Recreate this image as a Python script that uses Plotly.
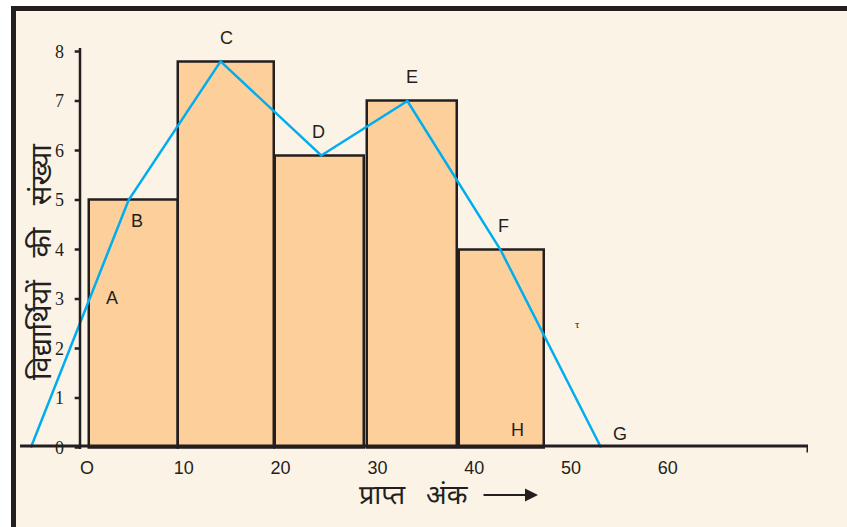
import plotly.graph_objects as go

# class intervals of the histogram (marks) and number of students
class_left = [0.2, 9.4, 19.4, 28.9, 38.4]
class_right = [9.4, 19.3, 28.6, 38.2, 47.2]
students = [5, 7.8, 5.9, 7, 4]

# frequency polygon vertices
poly_x = [-5.8, 4.3, 13.8, 24.2, 33.1, 42.7, 53.1]
poly_y = [0, 5, 7.8, 5.9, 7, 4, 0]

# point labels
pt_names = ["A", "B", "C", "D", "E", "F", "G", "H"]
pt_x = [2.6, 5.2, 14.4, 23.9, 33.6, 43.0, 55.1, 44.5]
pt_y = [3.02, 4.57, 8.27, 6.37, 7.48, 4.47, 0.27, 0.35]

x_ticks = [0, 10, 20, 30, 40, 50, 60]
x_ticktext = ["O", "10", "20", "30", "40", "50", "60"]
y_ticks = [0, 1, 2, 3, 4, 5, 6, 7, 8]

W, H = 847, 527
cream = "#FCF3E7"
ink = "#231F20"
peach = "#FDCF9B"
blue = "#00AEEF"
deva = "Noto Sans Devanagari, Noto Sans, sans-serif"

def px(x):
    return x / W

def py(y):
    return 1 - y / H

centers = [(a + b) / 2 for a, b in zip(class_left, class_right)]
widths = [b - a for a, b in zip(class_left, class_right)]

fig = go.Figure()
fig.add_trace(go.Bar(
    x=centers, y=students, width=widths,
    marker=dict(color=peach, line=dict(color=ink, width=2.5)),
    hoverinfo="skip", showlegend=False,
))
fig.add_trace(go.Scatter(
    x=poly_x, y=poly_y, mode="lines",
    line=dict(color=blue, width=2.5),
    hoverinfo="skip", showlegend=False,
))

for n, x, y in zip(pt_names, pt_x, pt_y):
    fig.add_annotation(x=x, y=y, text=n, showarrow=False,
                       font=dict(family="Liberation Sans, Arial", size=18, color=ink))
# stray small mark
fig.add_annotation(x=50.7, y=2.49, text="τ", showarrow=False,
                   font=dict(family="Liberation Serif", size=11, color=ink))

xr = [(20 - 87) / 9.68, (808 - 87) / 9.68]
yx = (80 - 87) / 9.68
shapes = [
    # frame
    dict(type="rect", xref="paper", yref="paper", x0=0, x1=1, y0=py(6), y1=1,
         fillcolor="white", line_width=0, layer="below"),
    dict(type="rect", xref="paper", yref="paper", x0=0, x1=px(11), y0=0, y1=1,
         fillcolor="white", line_width=0, layer="below"),
    dict(type="rect", xref="paper", yref="paper", x0=px(11), x1=1, y0=py(11), y1=py(6),
         fillcolor=ink, line_width=0, layer="below"),
    dict(type="rect", xref="paper", yref="paper", x0=px(11), x1=px(16), y0=0, y1=py(6),
         fillcolor=ink, line_width=0, layer="below"),
    # x axis line with end tick
    dict(type="line", xref="x", yref="y", x0=xr[0], x1=xr[1], y0=0.03, y1=0.03,
         line=dict(color=ink, width=3)),
    dict(type="line", xref="x", yref="y", x0=xr[1], x1=xr[1], y0=0.03, y1=-0.13,
         line=dict(color=ink, width=3)),
    # y axis line
    dict(type="line", xref="x", yref="y", x0=yx, x1=yx,
         y0=-0.03, y1=8.07, line=dict(color=ink, width=2.5)),
]
# y ticks drawn beside the axis line
for t in y_ticks:
    shapes.append(dict(type="line", xref="x", yref="y", x0=yx - 0.55, x1=yx,
                       y0=t, y1=t, line=dict(color=ink, width=2.5)))

fig.add_annotation(xref="paper", yref="paper", x=px(23), y=py(262),
                   xanchor="left", yanchor="middle",
                   text="विद्यार्थियों   की   संख्या", textangle=-90, showarrow=False,
                   font=dict(family=deva, size=29, color=ink))
fig.add_annotation(xref="paper", yref="paper", x=px(414), y=py(497),
                   xanchor="center", yanchor="middle",
                   text="प्राप्त   अंक", showarrow=False,
                   font=dict(family=deva, size=27, color=ink))
fig.add_annotation(xref="paper", yref="paper", x=px(538), y=py(495), ax=-56, ay=0,
                   text="", showarrow=True, arrowhead=2, arrowsize=1.3, arrowwidth=2,
                   arrowcolor=ink)

fig.update_layout(
    width=W, height=H, autosize=False,
    margin=dict(l=0, r=0, t=0, b=0, autoexpand=False),
    paper_bgcolor=cream, plot_bgcolor="rgba(0,0,0,0)",
    bargap=0,
    shapes=shapes,
    xaxis=dict(domain=[px(20), px(808)], range=xr, showgrid=False, zeroline=False,
               showline=False, tickvals=x_ticks, ticktext=x_ticktext, ticks="",
               automargin=False, ticklabelstandoff=3,
               tickfont=dict(family="Liberation Sans, Arial", size=18, color=ink)),
    yaxis=dict(domain=[py(452.45), py(26.75)], range=[-0.1, 8.5], showgrid=False,
               zeroline=False, showline=False, anchor="free", position=px(66),
               tickvals=y_ticks, ticks="", ticklabelstandoff=2, automargin=False,
               tickfont=dict(family="Liberation Serif, Times New Roman", size=18, color=ink)),
)

# no page margin, no scrollbars, no modebar
page_js = (
    "var s=document.createElement('style');"
    "s.textContent='html,body{margin:0;padding:0;overflow:hidden}"
    ".modebar-container{display:none !important}';"
    "document.head.appendChild(s);"
)
fig.write_html("out.html", config={"responsive": False}, post_script=page_js)
